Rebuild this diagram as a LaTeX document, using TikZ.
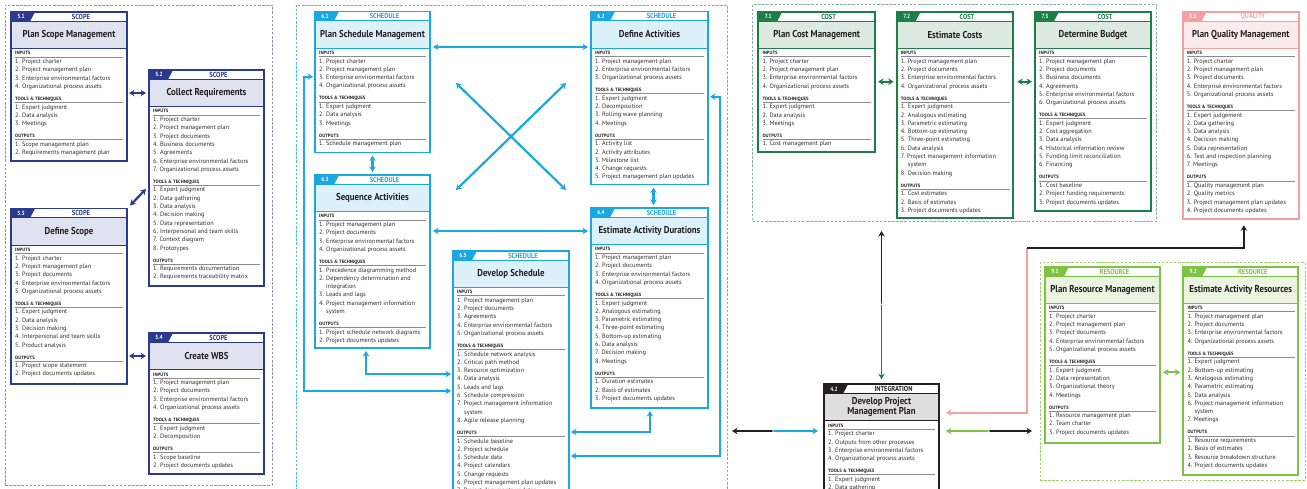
\documentclass[tikz,border=0pt]{standalone}
\usepackage{fontspec}
\setmainfont{PT Sans}
\newfontfamily\condfont[FakeStretch=0.88]{PT Sans}
\usetikzlibrary{arrows.meta,calc}

\definecolor{scmain}{HTML}{2B3A8C}
\definecolor{sclight}{HTML}{DFE2EF}
\definecolor{sccat}{HTML}{2B3A8C}
\definecolor{scframe}{HTML}{8A93B6}
\definecolor{shmain}{HTML}{1AA8E2}
\definecolor{shlight}{HTML}{DDF1FB}
\definecolor{shcat}{HTML}{1AA8E2}
\definecolor{shframe}{HTML}{52BCE8}
\definecolor{comain}{HTML}{1B7F47}
\definecolor{colight}{HTML}{DCEADF}
\definecolor{cocat}{HTML}{1B7F47}
\definecolor{coframe}{HTML}{86B2A0}
\definecolor{qumain}{HTML}{F2A0A0}
\definecolor{qulight}{HTML}{FCEBEB}
\definecolor{qucat}{HTML}{F4AAAA}
\definecolor{remain}{HTML}{7DC242}
\definecolor{relight}{HTML}{EAF4E0}
\definecolor{recat}{HTML}{7DC242}
\definecolor{reframe}{HTML}{9FD16F}
\definecolor{inmain}{HTML}{231F20}
\definecolor{inlight}{HTML}{DEDEDF}
\definecolor{incat}{HTML}{231F20}
\definecolor{itemgray}{HTML}{2E2E2E}
\definecolor{rulegray}{HTML}{8C8C8C}

\def\pmbcatsc{SCOPE}
\def\pmbcatsh{SCHEDULE}
\def\pmbcatco{COST}
\def\pmbcatqu{QUALITY}
\def\pmbcatre{RESOURCE}
\def\pmbcatin{INTEGRATION}

\newcommand\hdline[1]{\makebox[0pt][l]{\textcolor{rulegray}{\rule[-2.2pt]{\linewidth}{0.55pt}}}{\color{inmain}\fontsize{4.7}{8.3}\selectfont\bfseries #1}}
\newcommand\hdf[1]{\hdline{#1}\par\vspace{0.3pt}}
\newcommand\hd[1]{\par\vspace{3.7pt}\hdline{#1}\par\vspace{0.3pt}}
\newcommand\cont[1]{\\\phantom{0. }#1}
\newcommand\boxtext[2]{\begin{minipage}[t]{#1}\raggedright\fontsize{6.3}{8.3}\selectfont #2\end{minipage}}

\tikzset{
  boxbg/.style={anchor=north west, fill=white, inner sep=0pt, outer sep=0pt},
  frm/.style={anchor=north west, inner sep=0pt, outer sep=0pt, line width=0.8pt, dash pattern=on 2.5pt off 1.6pt},
  numlbl/.style={font=\condfont\bfseries\fontsize{6}{6}\selectfont, text=white, inner sep=0pt},
  catlbl/.style={font=\condfont\bfseries\fontsize{7.3}{7.5}\selectfont, inner sep=0pt},
  titlelbl/.style={font=\condfont\bfseries\fontsize{10}{10}\selectfont, text=inmain, align=center, inner sep=0pt},
  content/.style={anchor=base west, inner sep=0pt, text=itemgray},
  dbl/.style={line width=2.2pt, {Stealth[length=5.5pt,width=6.5pt]}-{Stealth[length=5.5pt,width=6.5pt]}},
  one/.style={line width=1.9pt, -{Stealth[length=5.5pt,width=6.5pt]}},
}

% #1 name #2 cat #3 number #4 title #5 x #6 y #7 width #8 height #9 content
\newcommand\procbox[9]{%
  \node[boxbg, minimum width=#7pt, minimum height=#8pt] (#1) at (#5,#6) {};
  \fill[#2light] (#5,{#6+9.5}) rectangle ({#5+#7},{#6+36.5});
  \fill[#2main] (#5,#6) -- ({#5+24},#6) -- ({#5+19},{#6+9.5}) -- (#5,{#6+9.5}) -- cycle;
  \draw[#2main, line width=1pt] (#5,{#6+9.5}) -- ({#5+#7},{#6+9.5});
  \draw[#2main, line width=0.8pt] (#5,{#6+36.5}) -- ({#5+#7},{#6+36.5});
  \node[numlbl] (#1n) at ({#5+10},{#6+4.9}) {#3};
  \node[catlbl, text=#2cat] (#1k) at ({#5+12+#7/2},{#6+4.9}) {\csname pmbcat#2\endcsname};
  \node[titlelbl] (#1t) at ({#5+#7/2},{#6+23}) {#4};
  \node[content] (#1c) at ({#5+4},{#6+43}) {\boxtext{\dimexpr#7pt-8pt\relax}{#9}};
  \draw[#2main, line width=1.7pt] (#1.north west) rectangle (#1.south east);
}

\begin{document}
\begin{tikzpicture}[x=1pt,y=-1pt]
\useasboundingbox (0,0) rectangle (1307,489);
\fill[white] (0,0) rectangle (1307,489);
\clip (0,0) rectangle (1307,489);

% group frames
\node[frm, draw=scframe, minimum width=267pt, minimum height=480pt] (fsc) at (5,5) {};
\node[frm, draw=shframe, minimum width=431pt, minimum height=520pt] (fsh) at (296,5) {};
\node[frm, draw=coframe, minimum width=404pt, minimum height=216.7pt] (fco) at (752.7,4.3) {};
\node[frm, draw=reframe, minimum width=265pt, minimum height=217.3pt] (fre) at (1040,262.7) {};

% ---------------- SCOPE
\procbox{s51}{sc}{5.1}{Plan Scope Management}{11}{12}{116}{149}{%
\hdf{INPUTS}1. Project charter\\2. Project management plan\\3. Enterprise environmental factors\\4. Organizational process assets
\hd{TOOLS \& TECHNIQUES}1. Expert judgment\\2. Data analysis\\3. Meetings
\hd{OUTPUTS}1. Scope management plan\\2. Requirements management plan}

\procbox{s52}{sc}{5.2}{Collect Requirements}{149}{70}{115}{216}{%
\hdf{INPUTS}1. Project charter\\2. Project management plan\\3. Project documents\\4. Business documents\\5. Agreements\\6. Enterprise environmental factors\\7. Organizational process assets
\hd{TOOLS \& TECHNIQUES}1. Expert judgment\\2. Data gathering\\3. Data analysis\\4. Decision making\\5. Data representation\\6. Interpersonal and team skills\\7. Context diagram\\8. Prototypes
\hd{OUTPUTS}1. Requirements documentation\\2. Requirements traceability matrix}

\procbox{s53}{sc}{5.3}{Define Scope}{11}{208.5}{116}{175.5}{%
\hdf{INPUTS}1. Project charter\\2. Project management plan\\3. Project documents\\4. Enterprise environmental factors\\5. Organizational process assets
\hd{TOOLS \& TECHNIQUES}1. Expert judgment\\2. Data analysis\\3. Decision making\\4. Interpersonal and team skills\\5. Product analysis
\hd{OUTPUTS}1. Project scope statement\\2. Project documents updates}

\procbox{s54}{sc}{5.4}{Create WBS}{149}{333}{115}{141}{%
\hdf{INPUTS}1. Project management plan\\2. Project documents\\3. Enterprise environmental factors\\4. Organizational process assets
\hd{TOOLS \& TECHNIQUES}1. Expert judgment\\2. Decomposition
\hd{OUTPUTS}1. Scope baseline\\2. Project documents updates}

% ---------------- SCHEDULE
\procbox{s61}{sh}{6.1}{Plan Schedule Management}{315}{11.5}{115}{141}{%
\hdf{INPUTS}1. Project charter\\2. Project management plan\\3. Enterprise environmental factors\\4. Organizational process assets
\hd{TOOLS \& TECHNIQUES}1. Expert judgment\\2. Data analysis\\3. Meetings
\hd{OUTPUTS}1. Schedule management plan}

\procbox{s62}{sh}{6.2}{Define Activities}{591}{11.5}{117}{173}{%
\hdf{INPUTS}1. Project management plan\\2. Enterprise environmental factors\\3. Organizational process assets
\hd{TOOLS \& TECHNIQUES}1. Expert judgment\\2. Decomposition\\3. Rolling wave planning\\4. Meetings
\hd{OUTPUTS}1. Activity list\\2. Activity attributes\\3. Milestone list\\4. Change requests\\5. Project management plan updates}

\procbox{s63}{sh}{6.3}{Sequence Activities}{315}{175}{115}{173}{%
\hdf{INPUTS}1. Project management plan\\2. Project documents\\3. Enterprise environmental factors\\4. Organizational process assets
\hd{TOOLS \& TECHNIQUES}1. Precedence diagramming method\\2. Dependency determination and\cont{integration}\\3. Leads and lags\\4. Project management information\cont{system}
\hd{OUTPUTS}1. Project schedule network diagrams\\2. Project documents updates}

\procbox{s64}{sh}{6.4}{Estimate Activity Durations}{591}{208}{117}{200}{%
\hdf{INPUTS}1. Project management plan\\2. Project documents\\3. Enterprise environmental factors\\4. Organizational process assets
\hd{TOOLS \& TECHNIQUES}1. Expert judgment\\2. Analogous estimating\\3. Parametric estimating\\4. Three-point estimating\\5. Bottom-up estimating\\6. Data analysis\\7. Decision making\\8. Meetings
\hd{OUTPUTS}1. Duration estimates\\2. Basis of estimates\\3. Project documents updates}

\procbox{s65}{sh}{6.5}{Develop Schedule}{453}{250.7}{116}{260}{%
\hdf{INPUTS}1. Project management plan\\2. Project documents\\3. Agreements\\4. Enterprise environmental factors\\5. Organizational process assets
\hd{TOOLS \& TECHNIQUES}1. Schedule network analysis\\2. Critical path method\\3. Resource optimization\\4. Data analysis\\5. Leads and lags\\6. Schedule compression\\7. Project management information\cont{system}\\8. Agile release planning
\hd{OUTPUTS}1. Schedule baseline\\2. Project schedule\\3. Schedule data\\4. Project calendars\\5. Change requests\\6. Project management plan updates\\7. Project documents updates}

% ---------------- COST
\procbox{s71}{co}{7.1}{Plan Cost Management}{758.3}{11.7}{116.7}{140.6}{%
\hdf{INPUTS}1. Project charter\\2. Project management plan\\3. Enterprise environmental factors\\4. Organizational process assets
\hd{TOOLS \& TECHNIQUES}1. Expert judgment\\2. Data analysis\\3. Meetings
\hd{OUTPUTS}1. Cost management plan}

\procbox{s72}{co}{7.2}{Estimate Costs}{896.7}{11.7}{116.6}{206.6}{%
\hdf{INPUTS}1. Project management plan\\2. Project documents\\3. Enterprise environmental factors\\4. Organizational process assets
\hd{TOOLS \& TECHNIQUES}1. Expert judgment\\2. Analogous estimating\\3. Parametric estimating\\4. Bottom-up estimating\\5. Three-point estimating\\6. Data analysis\\7. Project management information\cont{system}\\8. Decision making
\hd{OUTPUTS}1. Cost estimates\\2. Basis of estimates\\3. Project documents updates}

\procbox{s73}{co}{7.3}{Determine Budget}{1035}{11.7}{116}{199}{%
\hdf{INPUTS}1. Project management plan\\2. Project documents\\3. Business documents\\4. Agreements\\5. Enterprise environmental factors\\6. Organizational process assets
\hd{TOOLS \& TECHNIQUES}1. Expert judgment\\2. Cost aggregation\\3. Data analysis\\4. Historical information review\\5. Funding limit reconciliation\\6. Financing
\hd{OUTPUTS}1. Cost baseline\\2. Project funding requirements\\3. Project documents updates}

% ---------------- QUALITY
\procbox{s81}{qu}{8.1}{Plan Quality Management}{1182.7}{11.7}{116.3}{207.6}{%
\hdf{INPUTS}1. Project charter\\2. Project management plan\\3. Project documents\\4. Enterprise environmental factors\\5. Organizational process assets
\hd{TOOLS \& TECHNIQUES}1. Expert judgement\\2. Data gathering\\3. Data analysis\\4. Decision making\\5. Data representation\\6. Test and inspection planning\\7. Meetings
\hd{OUTPUTS}1. Quality management plan\\2. Quality metrics\\3. Project management plan updates\\4. Project documents updates}

% ---------------- RESOURCE
\procbox{s91}{re}{9.1}{Plan Resource Management}{1045}{266.7}{115}{176}{%
\hdf{INPUTS}1. Project charter\\2. Project management plan\\3. Project documents\\4. Enterprise environmental factors\\5. Organizational process assets
\hd{TOOLS \& TECHNIQUES}1. Expert judgment\\2. Data representation\\3. Organizational theory\\4. Meetings
\hd{OUTPUTS}1. Resource management plan\\2. Team charter\\3. Project documents updates}

\procbox{s92}{re}{9.2}{Estimate Activity Resources}{1183.3}{266.7}{115}{208.3}{%
\hdf{INPUTS}1. Project management plan\\2. Project documents\\3. Enterprise environmental factors\\4. Organizational process assets
\hd{TOOLS \& TECHNIQUES}1. Expert judgment\\2. Bottom-up estimating\\3. Analogous estimating\\4. Parametric estimating\\5. Data analysis\\6. Project management information\cont{system}\\7. Meetings
\hd{OUTPUTS}1. Resource requirements\\2. Basis of estimates\\3. Resource breakdown structure\\4. Project documents updates}

% ---------------- INTEGRATION
\procbox{s42}{in}{4.2}{Develop Project\\Management Plan}{824}{384.3}{115}{120}{%
\hdf{INPUTS}1. Project charter\\2. Outputs from other processes\\3. Enterprise environmental factors\\4. Organizational process assets
\hd{TOOLS \& TECHNIQUES}1. Expert judgment\\2. Data gathering}

% ---------------- connectors: scope
\draw[dbl, scmain] ($(s51.east |- s52t)+(2,0)$) -- ($(s52.west |- s52t)+(-3,0)$);
\draw[dbl, scmain] ($(s52.north west)+(-3,119)$) -- ($(s53.north east)+(3,-3)$);
\draw[dbl, scmain] ($(s53.east |- s54t)+(2,0)$) -- ($(s54.west |- s54t)+(-3,0)$);

% schedule
\coordinate (xa) at (456,83);
\coordinate (xb) at (566,190);
\coordinate (xc) at (566,83);
\coordinate (xd) at (456,190);
\draw[dbl, shmain] ($(s61.north east)+(3,35.5)$) -- ($(s62.north west)+(-3,35.5)$);
\draw[dbl, shmain] ($(s63.east |- s64t)+(3,0)$) -- ($(s64.west |- s64t)+(-3,0)$);
\draw[dbl, shmain] (xa) -- (xb);
\draw[dbl, shmain] (xc) -- (xd);
\draw[dbl, shmain] ($(s61.south)+(0,3)$) -- ($(s63.north)+(0,-3)$);
\draw[dbl, shmain] ($(s62.south)+(4,3)$) -- ($(s64.north)+(4,-3)$);
\draw[dbl, shmain] ($(s61.north west)+(-2,65.2)$) -- ++(-9,0) |- ($(s65.north west)+(-2,140.3)$);
\draw[dbl, shmain] ($(s63.south)+(-6.5,3)$) |- ($(s65.north west)+(-2,123.3)$);
\draw[dbl, shmain] ($(s64.south)+(0.5,3)$) |- ($(s65.north east)+(2,181.3)$);
\draw[dbl, shmain] ($(s62.north east)+(2,85.2)$) -- ++(10,0) |- ($(s65.north east)+(2,205.3)$);

% cost
\draw[dbl, comain] ($(s71.north east)+(3,70)$) -- ($(s72.north west)+(-3,70)$);
\draw[dbl, comain] ($(s72.north east)+(4,70)$) -- ($(s73.north west)+(-3,70)$);

% resource
\draw[dbl, remain] ($(s91.north east)+(3,105.6)$) -- ($(s92.north west)+(-3,105.6)$);

% integration
\coordinate (jl) at ($(s42.north west)+(-51,46.7)$);
\coordinate (jt) at ($(s42.north)+(0,-80)$);
\coordinate (jr) at ($(s42.north east)+(50,46.7)$);
\coordinate (jq) at ($(s42.north east)+(88,-136)$);
\draw[one, inmain] (jl) -- ($(fsh.east |- jl)+(5,0)$);
\draw[one, shmain] (jl) -- ($(s42.west |- jl)+(-6,0)$);
\draw[one, inmain] (jt) -- ($(s42.north |- fco.south)+(0,10)$);
\draw[one, comain] (jt) -- ($(s42.north)+(0,-5)$);
\draw[one, remain] (jr) -- ($(s42.east |- jr)+(7,0)$);
\draw[one, inmain] (jr) -- ($(fre.west |- jr)+(-8,0)$);
\draw[one, qumain] (jq) |- ($(s42.north east)+(7,28.4)$);
\draw[one, inmain] (jq) -| ($(s81.south)+(3,6)$);
\fill[shlight] (jl) circle (0.9);
\fill[colight] (jt) circle (0.9);
\fill[relight] (jr) circle (0.9);
\end{tikzpicture}
\end{document}
